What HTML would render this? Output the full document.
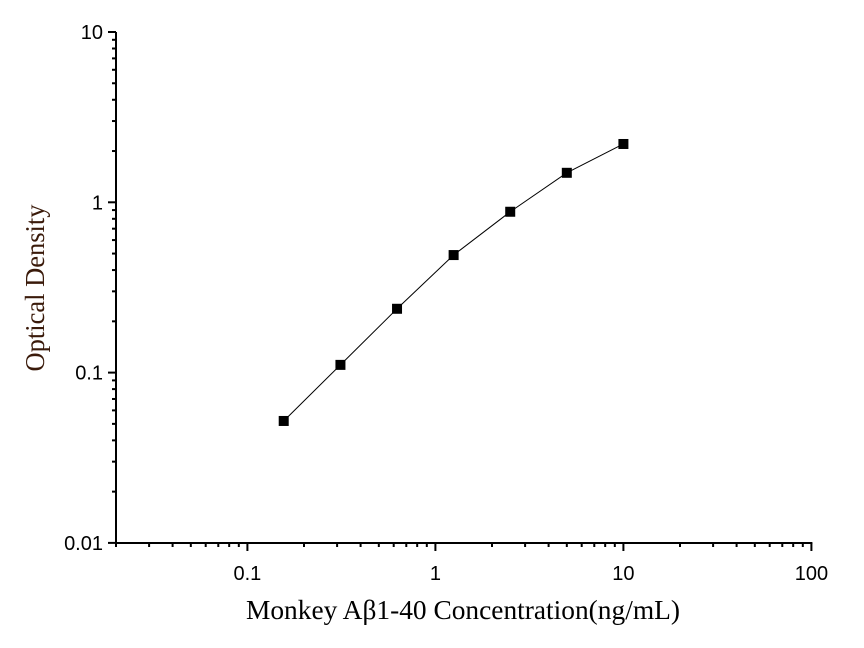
<!DOCTYPE html>
<html><head><meta charset="utf-8"><style>body{margin:0;background:#fff}svg{display:block}</style></head>
<body>
<svg id="s" width="864" height="648" xmlns="http://www.w3.org/2000/svg" font-family="Liberation Sans, Arial, sans-serif"></svg>
<script>
const s=document.getElementById('s');
const X0=116,XD=188,Y0=32,YD=170.3;
const xp=v=>X0+(Math.log10(v)-Math.log10(0.02))*XD;
const yp=v=>Y0+(1-Math.log10(v))*YD;
let h='';
h+=`<line x1="${X0}" y1="${Y0}" x2="${X0}" y2="543.2" stroke="#000" stroke-width="2"/>`;
h+=`<line x1="${X0-1}" y1="543" x2="${xp(100)+1}" y2="543" stroke="#000" stroke-width="2"/>`;
for(let e=-2;e<=1;e++){for(let m=1;m<=9;m++){const v=m*Math.pow(10,e);if(v>10.001)break;if(e==1&&m>1)break;const y=yp(v);const L=m==1?8:4;h+=`<line x1="${X0-L}" y1="${y}" x2="${X0}" y2="${y}" stroke="#000" stroke-width="2"/>`;}}
const yl=[[10,'10'],[1,'1'],[0.1,'0.1'],[0.01,'0.01']];
yl.forEach(([v,t])=>h+=`<text x="${X0-13}" y="${yp(v)+7}" font-size="20" text-anchor="end" fill="#000">${t}</text>`);
for(let e=-2;e<=2;e++){for(let m=1;m<=9;m++){const v=m*Math.pow(10,e);if(v<0.0199||v>100.01)continue;const x=xp(v);const L=m==1?8:4;h+=`<line x1="${x}" y1="543" x2="${x}" y2="${543+L}" stroke="#000" stroke-width="2"/>`;}}
[[0.1,'0.1'],[1,'1'],[10,'10'],[100,'100']].forEach(([v,t])=>h+=`<text x="${xp(v)}" y="580" font-size="20" text-anchor="middle" fill="#000">${t}</text>`);
const d=[[0.156,0.052],[0.3125,0.111],[0.625,0.237],[1.25,0.49],[2.5,0.88],[5,1.49],[10,2.2]];
h+=`<polyline fill="none" stroke="#000" stroke-width="1" points="${d.map(p=>xp(p[0])+','+yp(p[1])).join(' ')}"/>`;
d.forEach(p=>h+=`<rect x="${xp(p[0])-5}" y="${yp(p[1])-5}" width="10" height="10" fill="#000"/>`);
h+=`<text x="463" y="619" font-size="27" text-anchor="middle" textLength="434" lengthAdjust="spacingAndGlyphs" font-family="Liberation Serif, serif" fill="#000">Monkey Aβ1-40 Concentration(ng/mL)</text>`;
h+=`<text transform="translate(44,288) rotate(-90)" font-size="27" text-anchor="middle" textLength="167" lengthAdjust="spacingAndGlyphs" font-family="Liberation Serif, serif" fill="#3a1a0a">Optical Density</text>`;
s.innerHTML=h;
</script>
</body></html>
